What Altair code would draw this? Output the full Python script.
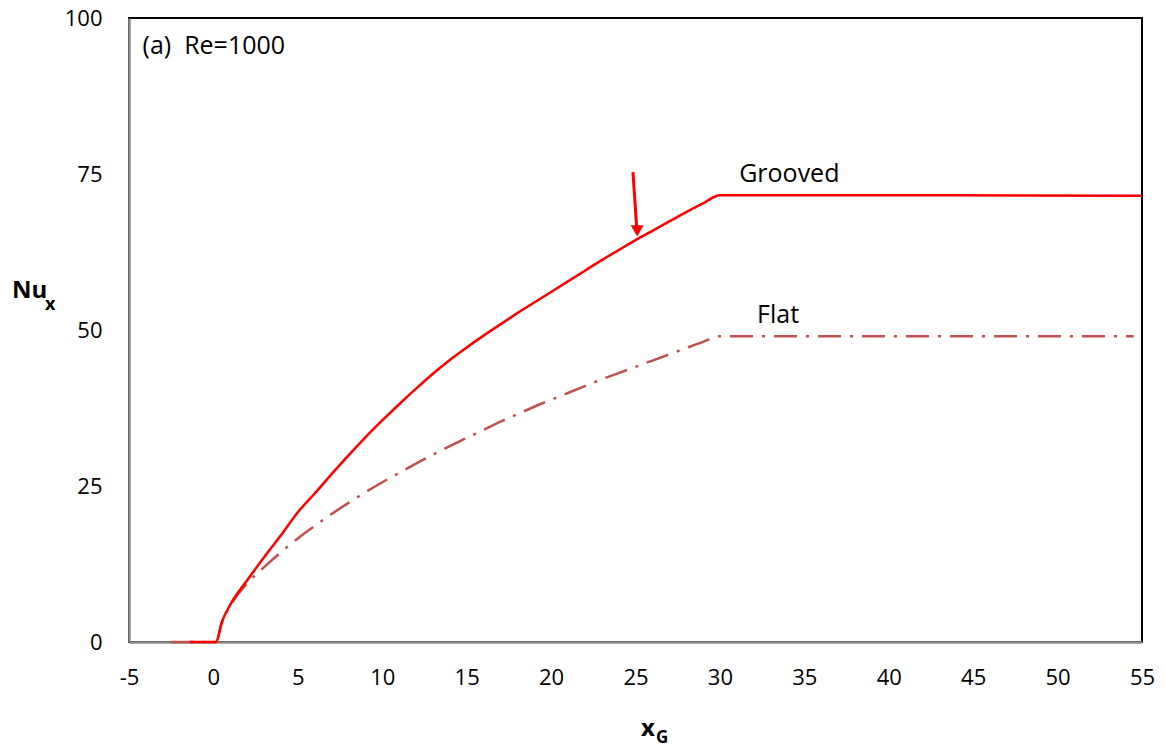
import altair as alt
import pandas as pd

# Grooved curve
grooved_x = [-1.4, 0.0, 0.15, 0.5, 1, 2, 3, 4, 5, 6, 7, 8, 9, 10, 11, 12, 13, 14, 15,
             16, 17, 18, 19, 20, 21, 22, 23, 24, 25, 26, 27, 28, 29, 30, 40, 55]
grooved_y = [0.0, 0.0, 0.0, 3.2, 6.0, 9.9, 13.6, 17.1, 20.8, 23.8, 26.9, 29.9, 32.8, 35.5,
             38.1, 40.6, 43.0, 45.2, 47.2, 49.1, 50.9, 52.7, 54.4, 56.1, 57.8, 59.5, 61.2,
             62.8, 64.4, 65.9, 67.4, 68.9, 70.3, 71.6, 71.6, 71.5]

# Flat curve
flat_x = [-2.5, 0.0, 0.15, 0.5, 1, 2, 3, 4, 5, 6, 7, 8, 9, 10, 11, 12, 13, 14, 15, 16,
          17, 18, 19, 20, 21, 22, 23, 24, 25, 26, 27, 28, 29, 30, 54.5]
flat_y = [0.0, 0.0, 0.0, 3.1, 5.8, 9.4, 12.0, 14.4, 16.6, 18.6, 20.5, 22.3, 24.0, 25.6,
          27.1, 28.6, 30.0, 31.4, 32.7, 34.0, 35.3, 36.5, 37.7, 38.8, 39.9, 41.0, 42.1,
          43.1, 44.1, 45.1, 46.1, 47.1, 48.1, 49.0, 49.0]

x_ticks = [-5, 0, 5, 10, 15, 20, 25, 30, 35, 40, 45, 50, 55]
y_ticks = [0, 25, 50, 75, 100]

label_names = ["Grooved", "Flat", "(a)\u00a0\u00a0Re=1000"]
label_x = [31.14, 32.2, -4.2]
label_y = [75.0, 52.4, 95.5]

arrow_x = [24.85, 25.08]
arrow_y = [75.3, 66.0]
arrow_head_x = [25.1]
arrow_head_y = [65.9]

FONT = "Open Sans"
W, H = 1013, 624

g_df = pd.DataFrame({"x": grooved_x, "y": grooved_y})
f_df = pd.DataFrame({"x": flat_x, "y": flat_y})
lab_df = pd.DataFrame({"t": label_names, "x": label_x, "y": label_y})
arr_df = pd.DataFrame({"x": [arrow_x[0]], "y": [arrow_y[0]], "x2": [arrow_x[1]], "y2": [arrow_y[1]]})
head_df = pd.DataFrame({"x": arrow_head_x, "y": arrow_head_y})

xs = alt.Scale(domain=[-5, 55], nice=False, zero=False)
ys = alt.Scale(domain=[0, 100], nice=False)

xax = alt.Axis(values=x_ticks, title=None, grid=False, ticks=False, labelFont=FONT,
               labelFontSize=22, labelColor="black", labelPadding=25,
               labelExpr="'' + datum.value",
               domainColor="#8c8c8c", domainWidth=2.5, labelFlush=False)
yax = alt.Axis(values=y_ticks, title=None, grid=False, ticks=False, labelFont=FONT,
               labelFontSize=22, labelColor="black", labelPadding=27,
               domainColor="#8c8c8c", domainWidth=2.5)

flat = alt.Chart(f_df).mark_line(color="#C0504D", strokeWidth=2.5,
                                 strokeDash=[23, 9, 3, 9], interpolate="monotone").encode(
    x=alt.X("x:Q", scale=xs, axis=xax),
    y=alt.Y("y:Q", scale=ys, axis=yax),
)
grooved = alt.Chart(g_df).mark_line(color="#FF0000", strokeWidth=2.5,
                                    interpolate="monotone").encode(
    x=alt.X("x:Q", scale=xs),
    y=alt.Y("y:Q", scale=ys),
)
labels = alt.Chart(lab_df).mark_text(align="left", baseline="middle", font=FONT,
                                     fontSize=25, color="black").encode(
    x=alt.X("x:Q", scale=xs), y=alt.Y("y:Q", scale=ys), text="t:N")
arrow = alt.Chart(arr_df).mark_rule(color="#FF0000", strokeWidth=3).encode(
    x=alt.X("x:Q", scale=xs), y=alt.Y("y:Q", scale=ys), x2="x2:Q", y2="y2:Q")
head = alt.Chart(head_df).mark_point(shape="triangle-down", filled=True, color="#FF0000",
                                     size=170, opacity=1).encode(
    x=alt.X("x:Q", scale=xs), y=alt.Y("y:Q", scale=ys))

# axis titles with subscripts
nu = alt.Chart(pd.DataFrame({"t": ["Nu"]})).mark_text(
    font=FONT, fontSize=24, fontWeight="bold", align="left", baseline="middle", color="black"
).encode(x=alt.value(-117), y=alt.value(273), text="t:N")
nu_sub = alt.Chart(pd.DataFrame({"t": ["x"]})).mark_text(
    font=FONT, fontSize=18, fontWeight="bold", align="left", baseline="middle", color="black"
).encode(x=alt.value(-84), y=alt.value(287), text="t:N")
xg = alt.Chart(pd.DataFrame({"t": ["x"]})).mark_text(
    font=FONT, fontSize=24, fontWeight="bold", align="left", baseline="middle", color="black"
).encode(x=alt.value(512), y=alt.value(711), text="t:N")
xg_sub = alt.Chart(pd.DataFrame({"t": ["G"]})).mark_text(
    font=FONT, fontSize=17, fontWeight="bold", align="left", baseline="middle", color="black"
).encode(x=alt.value(527), y=alt.value(720), text="t:N")

chart = alt.layer(flat, grooved, arrow, head, labels, nu, nu_sub, xg, xg_sub).properties(
    width=W, height=H,
    autosize=alt.AutoSizeParams(type="none"),
    padding={"left": 129, "top": 18, "right": 24, "bottom": 111},
    background="white",
).configure_view(stroke="black", strokeWidth=2)

chart.save("out.html", embed_options={"renderer": "svg", "actions": False})
